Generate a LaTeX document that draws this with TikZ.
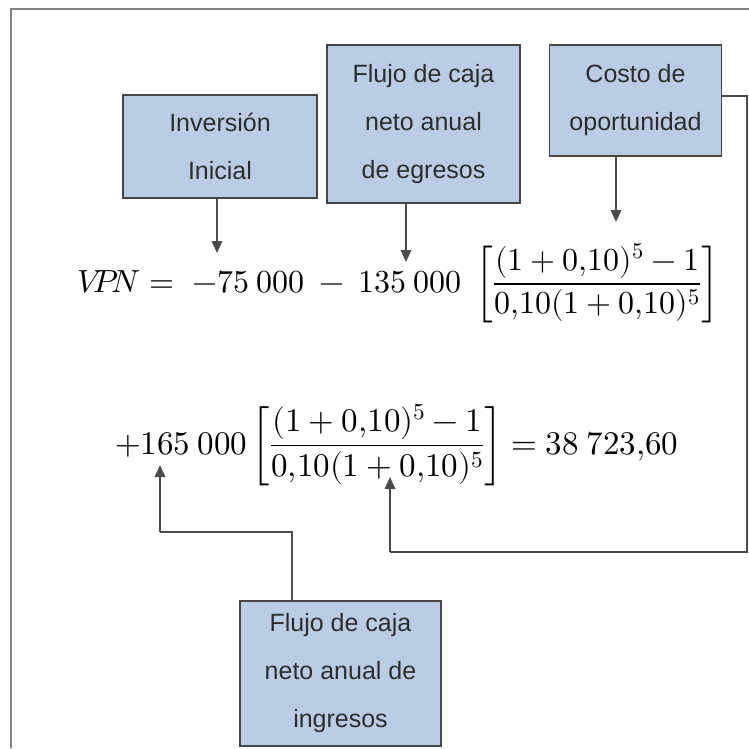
\documentclass[tikz,border=0pt]{standalone}
\usepackage{amsmath}
\usepackage{fontspec}
\usepackage{unicode-math}
\setmathfont{Latin Modern Math}
\usetikzlibrary{arrows.meta}
\newfontfamily\boxfont{Liberation Sans}
\definecolor{boxfill}{RGB}{186,205,229}
\definecolor{boxline}{RGB}{70,70,70}
\definecolor{framegray}{RGB}{130,130,130}
\definecolor{conn}{RGB}{75,75,75}
\definecolor{txt}{RGB}{45,45,45}
\tikzset{
  box/.style={draw=boxline, line width=1.8pt, fill=boxfill, rectangle, inner sep=0pt,
    align=center, text=txt, font=\boxfont\fontsize{25}{48}\selectfont},
  eq/.style={inner sep=0pt, font=\fontsize{32}{40}\selectfont},
  eqbig/.style={inner sep=0pt, font=\fontsize{33}{40}\selectfont},
  arr/.style={draw=conn, line width=1.8pt, -{Triangle[length=12pt,width=10.5pt]}},
  link/.style={draw=conn, line width=1.8pt},
  frame/.style={draw=framegray, line width=2.5pt}
}
\begin{document}
\begin{tikzpicture}[x=1pt,y=-1pt]
\useasboundingbox (0,0) rectangle (749,748);
\fill[white] (0,0) rectangle (749,748);
% frame (top and left sides)
\draw[frame] (749,9) -- (11,9) -- (11,748);
% boxes
\node[box, minimum width=194pt, minimum height=103pt] (inv) at (220,146.5) {Inversión\\Inicial};
\node[box, minimum width=193pt, minimum height=158pt] (egr) at (423.5,124) {Flujo de caja\\neto anual\\de egresos};
\node[box, minimum width=172pt, minimum height=111pt] (cos) at (635.5,100.5) {Costo de\\oportunidad};
\node[box, minimum width=201pt, minimum height=145pt] (ing) at (340.5,673.5) {Flujo de caja\\neto anual de\\ingresos};
% equations
\node[eq, anchor=base west] (eqA) at (77,292)
  {$\displaystyle V\mkern-5mu P\mkern-4mu N = \hspace{9pt} -75\:000 \:-\: 135\:000\ \left[\frac{(1+0{,}10)^5-1}{0{,}10(1+0{,}10)^5}\right]$};
\node[eqbig, anchor=base west] (eqB) at (115,454)
  {$\displaystyle {+}165\:000\left[\frac{(1+0{,}10)^5-1}{0{,}10(1+0{,}10)^5}\right] = 38\:723{,}60$};
% arrow tip coordinates
\coordinate (tA) at (217,253);
\coordinate (tB) at (406,262);
\coordinate (tC) at (616,222);
\coordinate (tD) at (160,465);
\coordinate (tE) at (390,477);
\coordinate (c1) at (747,96);
\coordinate (c2) at (747,552);
\coordinate (d1) at (292,532);
% arrows down
\draw[arr] (inv.south -| tA) -- (tA);
\draw[arr] (egr.south -| tB) -- (tB);
\draw[arr] (cos.south -| tC) -- (tC);
% costo connector
\draw[link] (cos.east |- c1) -- (c1) -- (c2) -- (c2 -| tE);
\draw[arr] (c2 -| tE) -- (tE);
% ingresos connector
\draw[link] (ing.north -| d1) -- (d1) -- (d1 -| tD);
\draw[arr] (d1 -| tD) -- (tD);
\end{tikzpicture}
\end{document}
